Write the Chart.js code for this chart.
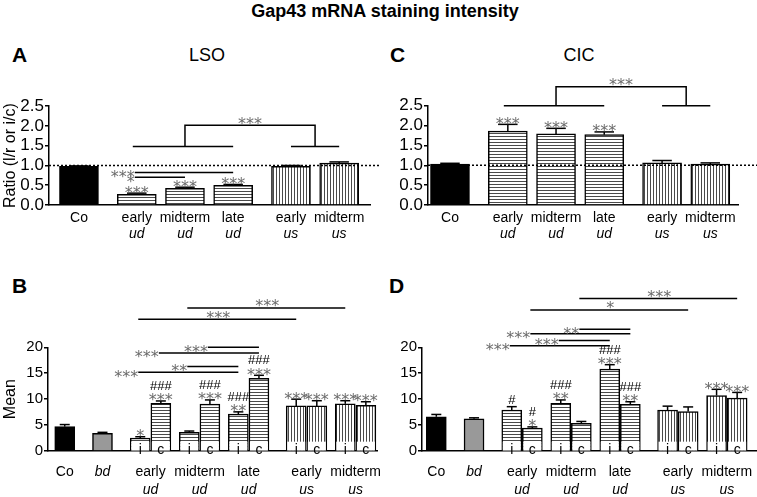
<!DOCTYPE html>
<html>
<head>
<meta charset="utf-8">
<script src="https://cdn.jsdelivr.net/npm/chart.js@4/dist/chart.umd.min.js"></script>
<style>
  body { margin: 0; background: #fff; font-family: "Liberation Sans", Arial, sans-serif; }
  #fig { position: relative; width: 757px; height: 497px; overflow: hidden; }
  #fig canvas { position: absolute; }
  .t { position: absolute; white-space: nowrap; line-height: 1; color: #000; }
</style>
</head>
<body>
<div id="fig">
  <div class="t" style="left:0;width:770px;top:2px;text-align:center;font-weight:bold;font-size:18px;">Gap43 mRNA staining intensity</div>
  <div class="t" style="left:12px;top:44px;font-weight:bold;font-size:21px;">A</div>
  <div class="t" style="left:157px;width:100px;top:46px;text-align:center;font-size:18px;">LSO</div>
  <div class="t" style="left:390px;top:44px;font-weight:bold;font-size:21px;">C</div>
  <div class="t" style="left:529px;width:100px;top:46px;text-align:center;font-size:18px;">CIC</div>
  <div class="t" style="left:12px;top:275px;font-weight:bold;font-size:21px;">B</div>
  <div class="t" style="left:389px;top:275px;font-weight:bold;font-size:21px;">D</div>

  <canvas id="chartA" width="380" height="150" style="left:0;top:95px"></canvas>
  <canvas id="chartC" width="377" height="175" style="left:380px;top:70px"></canvas>
  <canvas id="chartB" width="380" height="207" style="left:0;top:290px"></canvas>
  <canvas id="chartD" width="377" height="207" style="left:380px;top:290px"></canvas>
</div>
<script>
// ============================
// Data: ratio panels (A = LSO, C = CIC)
// ============================
const ratioGroups = ["Co", "early", "midterm", "late", "early", "midterm"];
const ratioGroupSub = ["", "ud", "ud", "ud", "us", "us"];
const ratioTicks = [0, 0.5, 1, 1.5, 2, 2.5];

const lsoRatio = [0.98, 0.27, 0.42, 0.5, 0.98, 1.06];
const lsoRatioSem = [0.01, 0.03, 0.03, 0.02, 0.02, 0.03];
const lsoRatioStars = ["", "***", "***", "***", "", ""];
const lsoPairs = [[1, 3], [1, 2]];
const lsoPairMarks = ["***", "*"];

const cicRatio = [1.03, 1.86, 1.79, 1.77, 1.06, 1.03];
const cicRatioSem = [0.02, 0.17, 0.14, 0.07, 0.06, 0.03];
const cicRatioStars = ["", "***", "***", "***", "", ""];

const ratioBracket = [[1, 3], [4, 5]]; // ud groups vs us groups
const ratioBracketMark = "***";

// ============================
// Data: mean panels (B = LSO, D = CIC)
// ============================
const meanGroups = ["Co", "bd", "early", "midterm", "late", "early", "midterm"];
const meanGroupSub = ["", "", "ud", "ud", "ud", "us", "us"];
const meanTicks = [0, 5, 10, 15, 20];
const meanBarGroup = [0, 1, 2, 2, 3, 3, 4, 4, 5, 5, 6, 6];
const meanBarSide = ["", "", "i", "c", "i", "c", "i", "c", "i", "c", "i", "c"];

const lsoMean = [4.7, 3.4, 2.5, 9.2, 3.6, 9.05, 7.1, 14.0, 8.7, 8.7, 9.1, 8.8];
const lsoMeanSem = [0.4, 0.2, 0.25, 0.45, 0.25, 0.8, 0.45, 0.6, 1.3, 1.0, 0.6, 0.7];
const lsoMeanStars = ["", "", "*", "***", "", "***", "**", "***", "***", "***", "***", "***"];
const lsoMeanHash = ["", "", "", "###", "", "###", "###", "###", "", "", "", ""];
const lsoMeanPairs = [[2, 6], [4, 6], [3, 7], [5, 7], [2, 8], [4, 10]];
const lsoMeanPairMarks = ["***", "**", "***", "***", "***", "***"];

const cicMean = [6.6, 6.2, 7.9, 4.4, 9.2, 5.35, 15.8, 9.0, 7.9, 7.6, 10.7, 10.2];
const cicMeanSem = [0.45, 0.2, 0.65, 0.25, 0.65, 0.35, 0.85, 0.5, 0.75, 0.9, 1.2, 1.1];
const cicMeanStars = ["", "", "", "*", "**", "", "***", "**", "", "", "***", "***"];
const cicMeanHash = ["", "", "#", "#", "###", "", "###", "###", "", "", "", ""];
const cicMeanPairs = [[2, 6], [4, 6], [3, 7], [5, 7], [3, 9], [5, 11]];
const cicMeanPairMarks = ["***", "***", "***", "**", "*", "***"];

// ============================
// Layout (slot positions on the x axis, annotation heights)
// ============================
const ratioSlots = [0, 1.2, 2.2, 3.2, 4.4, 5.4];
const meanSlots = [0, 0.77, 1.75, 2.75, 3.75, 4.93, 5.93];
const sideShift = { "": 0, i: -0.21, c: 0.21 };

const lsoPairLevels = [0.82, 0.7];
const lsoBracketLevels = [1.48, 2.02];
const cicBracketLevels = [2.5, 2.98];
const lsoMeanPairLevels = [15.2, 16.3, 18.9, 20.0, 25.4, 27.6];
const cicMeanPairLevels = [20.3, 21.3, 22.6, 23.5, 27.2, 29.4];
const meanPairLabelPos = ["left", "left", "left", "left", "top", "top"];

const FONT = '"Liberation Sans", Arial, sans-serif';

function stripes(dir) {
  const c = document.createElement("canvas");
  c.width = 3;
  c.height = 3;
  const g = c.getContext("2d");
  g.fillStyle = "#fff";
  g.fillRect(0, 0, 3, 3);
  g.fillStyle = "#4a4a4a";
  if (dir === "h") g.fillRect(0, 0, 3, 1);
  else g.fillRect(0, 0, 1, 3);
  return g.createPattern(c, "repeat");
}
const hPat = stripes("h");
const vPat = stripes("v");

function fillFor(group, sub) {
  if (sub === "ud") return hPat;
  if (sub === "us") return vPat;
  return group === "Co" ? "#000" : "#999";
}

function line(ctx, x1, y1, x2, y2) {
  ctx.beginPath();
  ctx.moveTo(x1, y1);
  ctx.lineTo(x2, y2);
  ctx.stroke();
}

// asterisks, vertically centred on yc
function stars(ctx, s, x, yc, align) {
  ctx.font = '16px "DejaVu Sans"';
  ctx.fillStyle = "#6a6a6a";
  ctx.textAlign = align;
  ctx.textBaseline = "alphabetic";
  ctx.fillText(s, x, yc + 9.4);
}

function hashes(ctx, s, x, yc) {
  ctx.font = "13px " + FONT;
  ctx.fillStyle = "#000";
  ctx.textAlign = "center";
  ctx.textBaseline = "alphabetic";
  ctx.fillText(s, x, yc + 4.6);
}

// ============================
// Plugin: error bars, significance marks, labels
// ============================
function marks(cfg) {
  return {
    id: "marks",
    afterDatasetsDraw(chart) {
      const ctx = chart.ctx;
      const xs = chart.scales.x;
      const ys = chart.scales.y;
      const area = chart.chartArea;
      const bars = chart.getDatasetMeta(0).data;
      ctx.save();
      ctx.strokeStyle = "#000";
      ctx.lineWidth = 1.5;

      if (cfg.refLine !== undefined) {
        const y = ys.getPixelForValue(cfg.refLine);
        ctx.setLineDash([2, 2]);
        line(ctx, area.left, y, chart.width, y);
        ctx.setLineDash([]);
      }

      // i / c labels at the foot of the paired bars
      if (cfg.sides) {
        const top = ys.getPixelForValue(cfg.sideClear);
        bars.forEach((b, i) => {
          if (!cfg.sides[i]) return;
          ctx.fillStyle = "#fff";
          ctx.fillRect(b.x - b.width / 2 + 1, top, b.width - 2, area.bottom - top - 0.5);
          ctx.fillStyle = "#000";
          ctx.font = "14px " + FONT;
          ctx.textAlign = "center";
          ctx.textBaseline = "alphabetic";
          ctx.fillText(cfg.sides[i], b.x, area.bottom + 3);
        });
      }

      // error bars (upper half) and marks over each bar
      bars.forEach((b, i) => {
        const capY = ys.getPixelForValue(cfg.values[i] + cfg.sem[i]);
        const cw = b.width / 4;
        ctx.strokeStyle = "#000";
        ctx.lineWidth = 1.5;
        line(ctx, b.x, b.y, b.x, capY);
        line(ctx, b.x - cw, capY, b.x + cw, capY);
        let yc = capY - 5;
        if (cfg.stars[i]) {
          stars(ctx, cfg.stars[i], b.x, yc, "center");
          yc -= 10.5;
        } else {
          yc = capY - 7;
        }
        if (cfg.hash && cfg.hash[i]) hashes(ctx, cfg.hash[i], b.x, yc);
      });

      ctx.strokeStyle = "#000";
      ctx.lineWidth = 1.5;
      (cfg.pairs || []).forEach((p, k) => {
        const x1 = bars[p[0]].x;
        const x2 = bars[p[1]].x;
        const y = ys.getPixelForValue(cfg.pairLevels[k]);
        line(ctx, x1 - 2, y, x2, y);
        if (cfg.pairPos[k] === "left") stars(ctx, cfg.pairMarks[k], x1 - 2, y, "right");
        else stars(ctx, cfg.pairMarks[k], (x1 + x2) / 2, y - 6, "center");
      });

      if (cfg.bracket) {
        const [L, R] = cfg.bracket;
        const yl = ys.getPixelForValue(cfg.bracketLevels[0]);
        const yt = ys.getPixelForValue(cfg.bracketLevels[1]);
        const xl1 = bars[L[0]].x, xl2 = bars[L[1]].x;
        const xr1 = bars[R[0]].x, xr2 = bars[R[1]].x;
        const ml = (xl1 + xl2) / 2;
        const mr = (xr1 + xr2) / 2;
        line(ctx, xl1 - 4, yl, xl2, yl);
        line(ctx, xr1, yl, xr2, yl);
        ctx.beginPath();
        ctx.moveTo(ml, yl);
        ctx.lineTo(ml, yt);
        ctx.lineTo(mr, yt);
        ctx.lineTo(mr, yl);
        ctx.stroke();
        stars(ctx, cfg.bracketMark, (ml + mr) / 2, yt - 6, "center");
      }

      // two-line category labels
      ctx.fillStyle = "#000";
      ctx.textAlign = "center";
      ctx.textBaseline = "middle";
      cfg.groups.forEach((g, k) => {
        const x = xs.getPixelForValue(cfg.slots[k]);
        ctx.font = (g === "bd" ? "italic " : "") + "14px " + FONT;
        ctx.fillText(g, x, area.bottom + cfg.labelY[0]);
        if (cfg.subs[k]) {
          ctx.font = "italic 14px " + FONT;
          ctx.fillText(cfg.subs[k], x, area.bottom + cfg.labelY[1]);
        }
      });
      ctx.restore();
    },
  };
}

function makePanel(id, p) {
  const points = p.values.map((v, i) => ({ x: p.xs[i], y: v }));
  return new Chart(document.getElementById(id), {
    type: "bar",
    data: {
      datasets: [
        {
          data: points,
          backgroundColor: p.fills,
          borderColor: "#000",
          borderWidth: 1.5,
          barThickness: p.barW,
        },
      ],
    },
    options: {
      responsive: false,
      animation: false,
      devicePixelRatio: 1,
      layout: { padding: p.pad },
      plugins: { legend: { display: false }, tooltip: { enabled: false } },
      scales: {
        x: {
          type: "linear",
          min: p.xMin,
          max: p.xMax,
          offset: false,
          grid: { display: false },
          ticks: { display: false },
          border: { display: true, color: "#000", width: 1.5 },
          afterFit: (s) => { s.height = p.xH; },
        },
        y: {
          min: 0,
          max: p.ticks[p.ticks.length - 1],
          grid: { drawOnChartArea: false, tickLength: 4, color: "#000", lineWidth: 1.5 },
          border: { display: true, color: "#000", width: 1.5 },
          ticks: {
            color: "#000",
            padding: 1,
            autoSkip: false,
            font: { family: FONT, size: p.tickSize },
            callback: p.fmt,
          },
          afterBuildTicks: (s) => { s.ticks = p.ticks.map((v) => ({ value: v })); },
          afterFit: (s) => { s.width = p.yW; },
          title: p.yTitle
            ? { display: true, text: p.yTitle, color: "#000", font: { family: FONT, size: 16 }, padding: { top: 1, bottom: 0 } }
            : { display: false },
        },
      },
    },
    plugins: [marks(p)],
  });
}

const ratioFills = ratioGroups.map((g, i) => fillFor(g, ratioGroupSub[i]));
const meanFills = meanBarGroup.map((g) => fillFor(meanGroups[g], meanGroupSub[g]));
const meanXs = meanBarGroup.map((g, i) => meanSlots[g] + sideShift[meanBarSide[i]]);

makePanel("chartA", {
  values: lsoRatio, sem: lsoRatioSem, stars: lsoRatioStars,
  xs: ratioSlots, slots: ratioSlots, groups: ratioGroups, subs: ratioGroupSub,
  fills: ratioFills, barW: 39, ticks: ratioTicks, fmt: (v) => v.toFixed(1), tickSize: 17,
  yTitle: "Ratio (l/r or i/c)", refLine: 1,
  pairs: lsoPairs, pairMarks: lsoPairMarks, pairLevels: lsoPairLevels, pairPos: ["left", "left"],
  bracket: ratioBracket, bracketMark: ratioBracketMark, bracketLevels: lsoBracketLevels,
  pad: { top: 10, right: 10, bottom: 0, left: 0 }, yW: 49, xH: 40, xMin: -0.622, xMax: 6.04,
  labelY: [13.5, 29],
});

makePanel("chartC", {
  values: cicRatio, sem: cicRatioSem, stars: cicRatioStars,
  xs: ratioSlots, slots: ratioSlots, groups: ratioGroups, subs: ratioGroupSub,
  fills: ratioFills, barW: 39, ticks: ratioTicks, fmt: (v) => v.toFixed(1), tickSize: 17,
  refLine: 1,
  bracket: ratioBracket, bracketMark: ratioBracketMark, bracketLevels: cicBracketLevels,
  pad: { top: 35.7, right: 19, bottom: 0, left: 0 }, yW: 48, xH: 40, xMin: -0.456, xMax: 5.975,
  labelY: [13.5, 29.5],
});

makePanel("chartB", {
  values: lsoMean, sem: lsoMeanSem, stars: lsoMeanStars, hash: lsoMeanHash,
  xs: meanXs, slots: meanSlots, groups: meanGroups, subs: meanGroupSub,
  fills: meanFills, barW: 20, ticks: meanTicks, fmt: (v) => String(v), tickSize: 15,
  yTitle: "Mean",
  sides: meanBarSide, sideClear: 1.8,
  pairs: lsoMeanPairs, pairMarks: lsoMeanPairMarks, pairLevels: lsoMeanPairLevels, pairPos: meanPairLabelPos,
  pad: { top: 57.3, right: 3, bottom: 0, left: 0 }, yW: 48, xH: 46, xMin: -0.341, xMax: 6.367,
  labelY: [20.7, 39],
});

makePanel("chartD", {
  values: cicMean, sem: cicMeanSem, stars: cicMeanStars, hash: cicMeanHash,
  xs: meanXs, slots: meanSlots, groups: meanGroups, subs: meanGroupSub,
  fills: meanFills, barW: 20, ticks: meanTicks, fmt: (v) => String(v), tickSize: 15,
  sides: meanBarSide, sideClear: 1.8,
  pairs: cicMeanPairs, pairMarks: cicMeanPairMarks, pairLevels: cicMeanPairLevels, pairPos: meanPairLabelPos,
  pad: { top: 57.3, right: 0, bottom: 0, left: 0 }, yW: 42, xH: 46, xMin: -0.292, xMax: 6.545,
  labelY: [20.7, 39],
});
</script>
</body>
</html>
